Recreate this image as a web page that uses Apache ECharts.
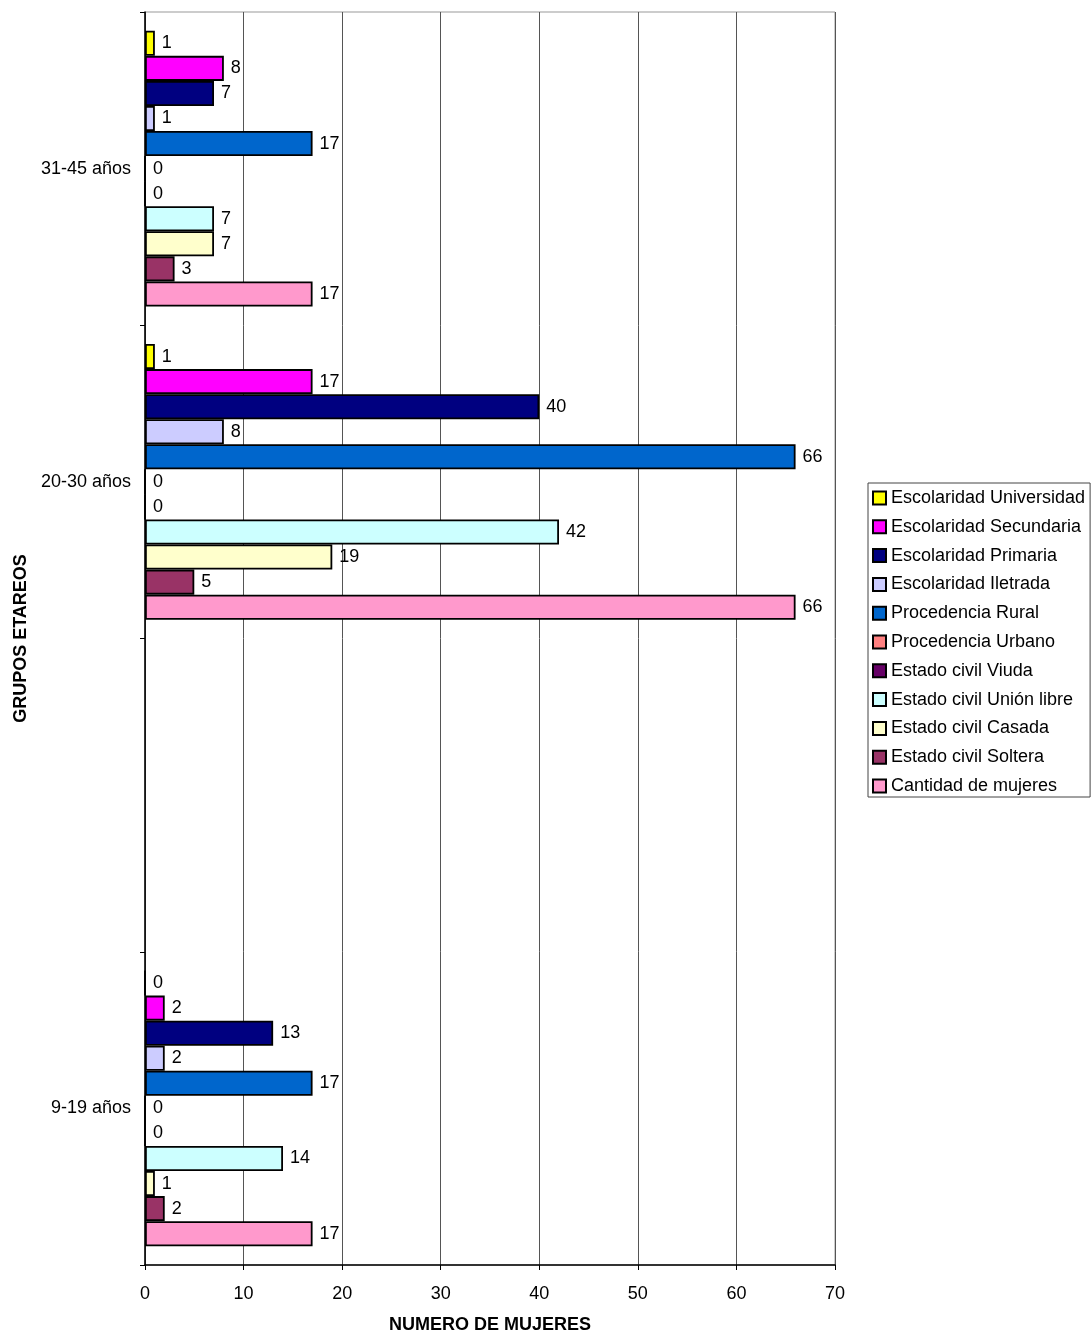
<!DOCTYPE html>
<html>
<head>
<meta charset="utf-8">
<script src="https://cdn.jsdelivr.net/npm/echarts@6/dist/echarts.min.js"></script>
<style>
  html, body { margin: 0; padding: 0; background: #fff; }
  #chart { width: 1091px; height: 1335px; }
</style>
</head>
<body>
<div id="chart"></div>
<script>
// Age groups, bottom to top (the empty slot is a gap in the axis)
const groups = ['9-19 años', '', '20-30 años', '31-45 años'];
const xTicks = [0, 10, 20, 30, 40, 50, 60, 70];

// Counts per group (same order as groups); '-' marks the empty slot
const escolUniversidad   = [0, '-', 1, 1];
const escolSecundaria    = [2, '-', 17, 8];
const escolPrimaria      = [13, '-', 40, 7];
const escolIletrada      = [2, '-', 8, 1];
const procedenciaRural   = [17, '-', 66, 17];
const procedenciaUrbano  = [0, '-', 0, 0];
const civilViuda         = [0, '-', 0, 0];
const civilUnionLibre    = [14, '-', 42, 7];
const civilCasada        = [1, '-', 19, 7];
const civilSoltera       = [2, '-', 5, 3];
const cantidadMujeres    = [17, '-', 66, 17];

// Series listed top bar first (same order as the legend)
const seriesDefs = [
  { name: 'Escolaridad Universidad',    data: escolUniversidad,  color: '#FFFF00' },
  { name: 'Escolaridad Secundaria',     data: escolSecundaria,   color: '#FF00FF' },
  { name: 'Escolaridad Primaria',       data: escolPrimaria,     color: '#000080' },
  { name: 'Escolaridad Iletrada',       data: escolIletrada,     color: '#CCCCFF' },
  { name: 'Procedencia Rural',          data: procedenciaRural,  color: '#0066CC' },
  { name: 'Procedencia Urbano',         data: procedenciaUrbano, color: '#FF8080' },
  { name: 'Estado civil Viuda',         data: civilViuda,        color: '#660066' },
  { name: 'Estado civil Unión libre',   data: civilUnionLibre,   color: '#CCFFFF' },
  { name: 'Estado civil Casada',        data: civilCasada,       color: '#FFFFCC' },
  { name: 'Estado civil Soltera',       data: civilSoltera,      color: '#993366' },
  { name: 'Cantidad de mujeres',        data: cantidadMujeres,   color: '#FF99CC' }
];

const FONT = '"Liberation Sans", Arial, sans-serif';

const chart = echarts.init(document.getElementById('chart'), null, { renderer: 'canvas' });

chart.setOption({
  animation: false,
  backgroundColor: '#fff',
  textStyle: { fontFamily: FONT },
  grid: {
    left: 145, right: 256, top: 12, bottom: 70,
    outerBoundsMode: 'none',
    containLabel: false,
    show: true, borderColor: '#999', borderWidth: 1
  },
  legend: {
    orient: 'vertical',
    left: 868, top: 483,
    padding: [6, 5, 2, 4],
    data: seriesDefs.map(s => s.name),
    itemWidth: 13, itemHeight: 13, itemGap: 10.8,
    icon: 'rect',
    borderColor: '#444', borderWidth: 1,
    textStyle: { fontFamily: FONT, fontSize: 18, color: '#000' },
    itemStyle: { borderColor: '#000', borderWidth: 2 }
  },
  xAxis: {
    type: 'value',
    min: 0, max: 70, interval: 10,
    name: 'NUMERO DE MUJERES',
    nameLocation: 'middle', nameGap: 51,
    nameTextStyle: { fontFamily: FONT, fontSize: 18, fontWeight: 'bold', color: '#000' },
    axisLine: { show: true, lineStyle: { color: '#000', width: 1.5 } },
    axisTick: { show: true, length: 5, lineStyle: { color: '#000' } },
    axisLabel: { fontFamily: FONT, fontSize: 18, color: '#000', margin: 20,
                 formatter: v => xTicks.includes(v) ? String(v) : '' },
    splitLine: { show: true, lineStyle: { color: '#555', width: 1 } }
  },
  yAxis: {
    type: 'category',
    data: groups,
    name: 'GRUPOS ETAREOS',
    nameLocation: 'middle', nameGap: 114, nameRotate: 90,
    nameTextStyle: { fontFamily: FONT, fontSize: 18, fontWeight: 'bold', color: '#000' },
    axisLine: { show: true, lineStyle: { color: '#000', width: 1.5 } },
    axisTick: { show: true, length: 5, alignWithLabel: false, lineStyle: { color: '#000' } },
    axisLabel: { fontFamily: FONT, fontSize: 18, color: '#000', margin: 14 },
    splitLine: { show: false }
  },
  series: seriesDefs.map(s => ({
    name: s.name,
    type: 'bar',
    data: s.data,
    barGap: '0%',
    barCategoryGap: '12%',
    itemStyle: { color: s.color, borderColor: '#000', borderWidth: 1.8 },
    label: {
      show: true, position: 'right', distance: 7,
      fontFamily: FONT, fontSize: 18, color: '#000'
    }
  }))
});
</script>
</body>
</html>
